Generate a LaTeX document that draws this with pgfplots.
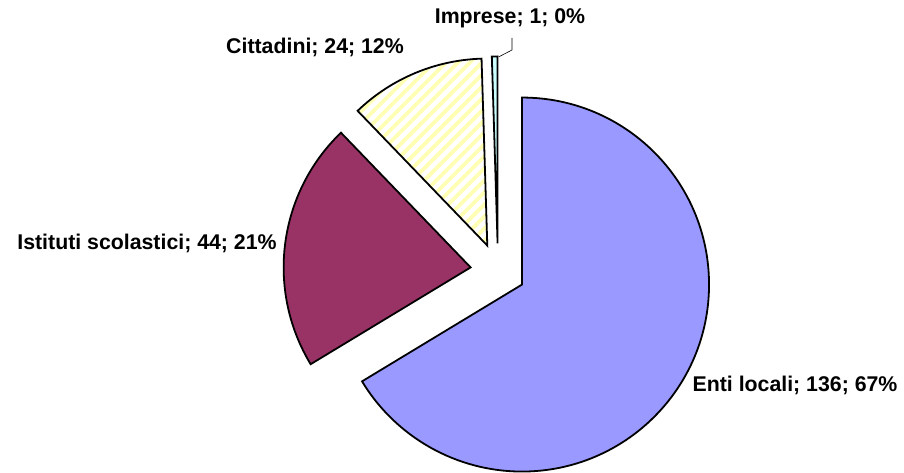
\documentclass[border=0pt]{standalone}
\usepackage{pgfplots}
\pgfplotsset{compat=1.18}
\usepackage{fontspec}
\setmainfont{Liberation Sans}
\usetikzlibrary{patterns.meta}
\definecolor{enti}{HTML}{9999FF}
\definecolor{istituti}{HTML}{993366}
\definecolor{cittstripe}{HTML}{FFFFB4}
\definecolor{imprese}{HTML}{CCFFFF}
% values
\def\vEnti{136}
\def\vIst{44}
\def\vCitt{24}
\def\vImp{1}
\pgfmathsetmacro\tot{\vEnti+\vIst+\vCitt+\vImp}
\pgfmathsetmacro\aA{90}
\pgfmathsetmacro\aB{\aA-\vEnti/\tot*360}
\pgfmathsetmacro\aC{\aB-\vIst/\tot*360}
\pgfmathsetmacro\aD{\aC-\vCitt/\tot*360}
\pgfmathsetmacro\aE{\aD-\vImp/\tot*360}
\def\cx{498}
\def\cy{-271}
\def\ex{27.6}
\newcommand\slicepath[2]{(axis cs:{\cx+\ex*cos((#1+#2)/2)},{\cy+\ex*sin((#1+#2)/2)}) -- ++(#1:187bp) arc[start angle=#1, end angle=#2, radius=187bp] -- cycle}
\begin{document}
\begin{tikzpicture}
\begin{axis}[
  scale only axis, width=904bp, height=472bp,
  xmin=0, xmax=904, ymin=-472, ymax=0,
  hide axis, clip=false,
  font=\fontsize{21.3bp}{25bp}\selectfont\bfseries
]
\addplot[draw=none, forget plot] coordinates {(0,-472) (904,0)};
\fill[enti] \slicepath{\aA}{\aB};
\draw[line width=1.8pt, line join=miter] \slicepath{\aA}{\aB};
\fill[istituti] \slicepath{\aB}{\aC};
\draw[line width=1.8pt] \slicepath{\aB}{\aC};
\fill[white] \slicepath{\aC}{\aD};
\path[pattern={Lines[angle=45,distance=8.5bp,line width=3.8bp]}, pattern color=cittstripe] \slicepath{\aC}{\aD};
\draw[line width=1.8pt] \slicepath{\aC}{\aD};
\fill[imprese] \slicepath{\aD}{\aE};
\draw[line width=1.8pt] \slicepath{\aD}{\aE};
\draw[line width=0.6pt] (axis cs:512,-38) -- (axis cs:512,-50) -- (axis cs:498.5,-57);
\node[anchor=center] at (axis cs:510,-18) {Imprese; 1; 0\%};
\node[anchor=center] at (axis cs:315,-47) {Cittadini; 24; 12\%};
\node[anchor=center] at (axis cs:147,-243) {Istituti scolastici; 44; 21\%};
\node[anchor=center] at (axis cs:795,-385) {Enti locali; 136; 67\%};
\end{axis}
\end{tikzpicture}
\end{document}
